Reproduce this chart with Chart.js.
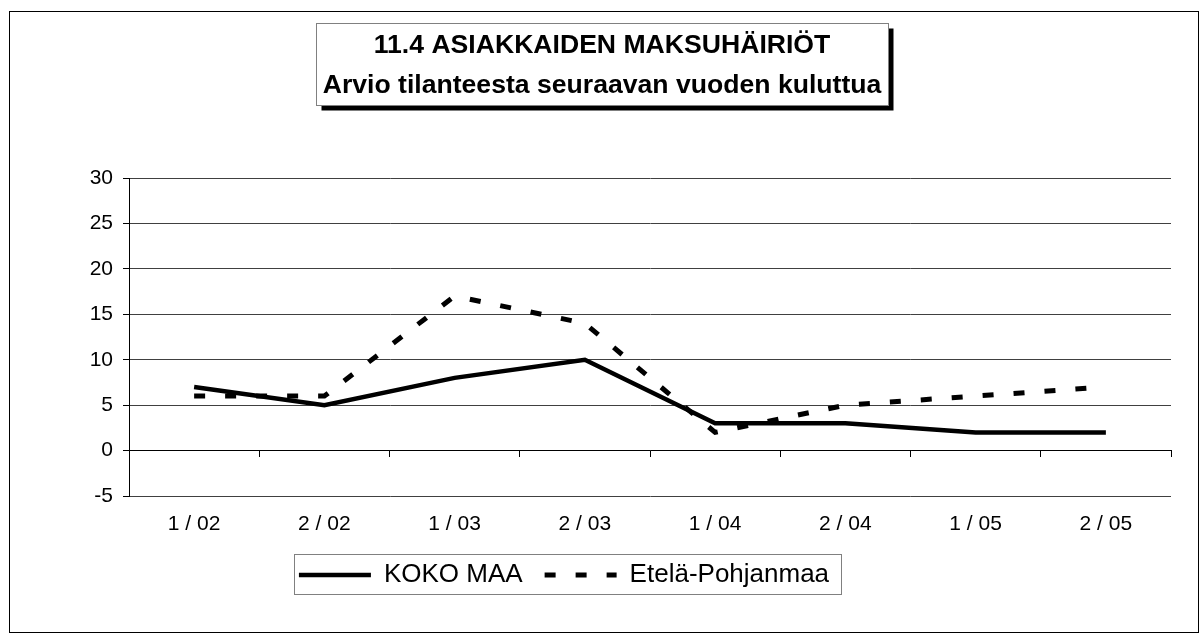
<!DOCTYPE html>
<html>
<head>
<meta charset="utf-8">
<script src="https://cdn.jsdelivr.net/npm/chart.js@4.4.1/dist/chart.umd.min.js"></script>
<style>
  body { margin: 0; background: #fff; }
  canvas { display: block; }
</style>
</head>
<body>
<canvas id="chart" width="1201" height="639"></canvas>
<script>
// half-year periods
const categories = ["1 / 02", "2 / 02", "1 / 03", "2 / 03", "1 / 04", "2 / 04", "1 / 05", "2 / 05"];
const kokoMaa = [7, 5, 8, 10, 3, 3, 2, 2];
const etelaPohjanmaa = [6, 6, 17, 14, 2, 5, 6, 7];
const titleLines = ["11.4 ASIAKKAIDEN MAKSUHÄIRIÖT", "Arvio tilanteesta seuraavan vuoden kuluttua"];

const FONT = "'Liberation Sans', Arial, sans-serif";

// frame, title box with shadow, legend box
const boxes = {
  id: "boxes",
  afterLayout(chart) {
    // legend sits a bit left of centre in the original
    const lg = chart.legend;
    lg.right = lg.left + 1062;
    lg.width = 1062;
  },
  beforeDraw(chart) {
    const ctx = chart.ctx;
    ctx.save();
    ctx.strokeStyle = "#000";
    ctx.lineWidth = 1;
    ctx.strokeRect(9.5, 11.5, 1189, 621);

    const tb = chart.titleBlock;
    const topt = chart.options.plugins.title;
    ctx.font = "bold " + topt.font.size + "px " + FONT;
    let w = 0;
    titleLines.forEach(t => { w = Math.max(w, ctx.measureText(t).width); });
    const cx = (tb.left + tb.right) / 2;
    const textTop = tb.top + topt.padding.top;
    const x0 = Math.round(cx - w / 2 - 7) + 0.5;
    const x1 = Math.round(cx + w / 2 + 7) + 0.5;
    const y0 = Math.round(textTop - 3) + 0.5;
    const y1 = Math.round(textTop + titleLines.length * 40 - 1) + 0.5;
    ctx.fillStyle = "#000";
    ctx.fillRect(x0 + 5, y0 + 5, x1 - x0, y1 - y0);
    ctx.fillStyle = "#fff";
    ctx.fillRect(x0, y0, x1 - x0, y1 - y0);
    ctx.strokeStyle = "#808080";
    ctx.strokeRect(x0, y0, x1 - x0, y1 - y0);

    const hb = chart.legend.legendHitBoxes;
    if (hb && hb.length) {
      const last = hb[hb.length - 1];
      const mid = hb[0].top + hb[0].height / 2;
      const lx0 = Math.round(hb[0].left - 5) + 0.5;
      const lx1 = Math.round(last.left + last.width + 12) + 0.5;
      ctx.fillStyle = "#fff";
      ctx.fillRect(lx0, Math.round(mid - 21) + 0.5, lx1 - lx0, 40);
      ctx.strokeStyle = "#808080";
      ctx.strokeRect(lx0, Math.round(mid - 21) + 0.5, lx1 - lx0, 40);
    }
    ctx.restore();
  }
};

const ctx = document.getElementById("chart").getContext("2d");
const myChart = new Chart(ctx, {
  type: "line",
  data: {
    labels: categories,
    datasets: [{
      label: "KOKO MAA",
      data: kokoMaa,
      borderColor: "#000",
      backgroundColor: "#000",
      borderWidth: 4.5,
      pointRadius: 0,
      tension: 0,
      fill: false
    }, {
      label: "Etelä-Pohjanmaa",
      data: etelaPohjanmaa,
      borderColor: "#000",
      backgroundColor: "#000",
      borderWidth: 5,
      borderDash: [11, 20],
      pointRadius: 0,
      tension: 0,
      fill: false
    }]
  },
  options: {
    responsive: false,
    animation: false,
    layout: {
      padding: { top: 10, left: 33, right: 30, bottom: 41 }
    },
    scales: {
      x: {
        offset: true,
        grid: { display: false, drawTicks: false },
        border: { display: false },
        ticks: {
          color: "#000",
          font: { family: FONT, size: 21 },
          padding: 16,
          maxRotation: 0,
          autoSkip: false
        },
        afterFit(scale) { scale.height = 44; }
      },
      x2: {
        type: "category",
        position: { y: 0 },
        offset: true,
        grid: {
          offset: true,
          drawOnChartArea: false,
          drawTicks: true,
          tickLength: 6,
          color: "#000"
        },
        border: { display: true, color: "#000", width: 1 },
        ticks: { display: false }
      },
      y: {
        min: -5,
        max: 30,
        ticks: {
          stepSize: 5,
          color: "#000",
          font: { family: FONT, size: 21 },
          padding: 10
        },
        grid: {
          color: "#404040",
          tickColor: "#000",
          tickLength: 6
        },
        border: { color: "#000", width: 1 },
        afterFit(scale) { scale.width = 96; }
      }
    },
    plugins: {
      title: {
        display: true,
        text: titleLines,
        color: "#000",
        font: { family: FONT, size: 26.6, weight: "bold", lineHeight: "40px" },
        padding: { top: 16, bottom: 72 }
      },
      legend: {
        position: "bottom",
        labels: {
          color: "#000",
          font: { family: FONT, size: 26 },
          usePointStyle: true,
          pointStyle: "line",
          pointStyleWidth: 72,
          padding: 22,
          generateLabels(chart) {
            const items = Chart.defaults.plugins.legend.labels.generateLabels(chart);
            items.forEach((item, i) => {
              const ds = chart.data.datasets[i];
              item.lineDash = ds.borderDash || [];
              item.lineWidth = ds.borderWidth;
              item.strokeStyle = ds.borderColor;
            });
            return items;
          }
        }
      },
      tooltip: { enabled: false }
    }
  },
  plugins: [boxes]
});
</script>
</body>
</html>
